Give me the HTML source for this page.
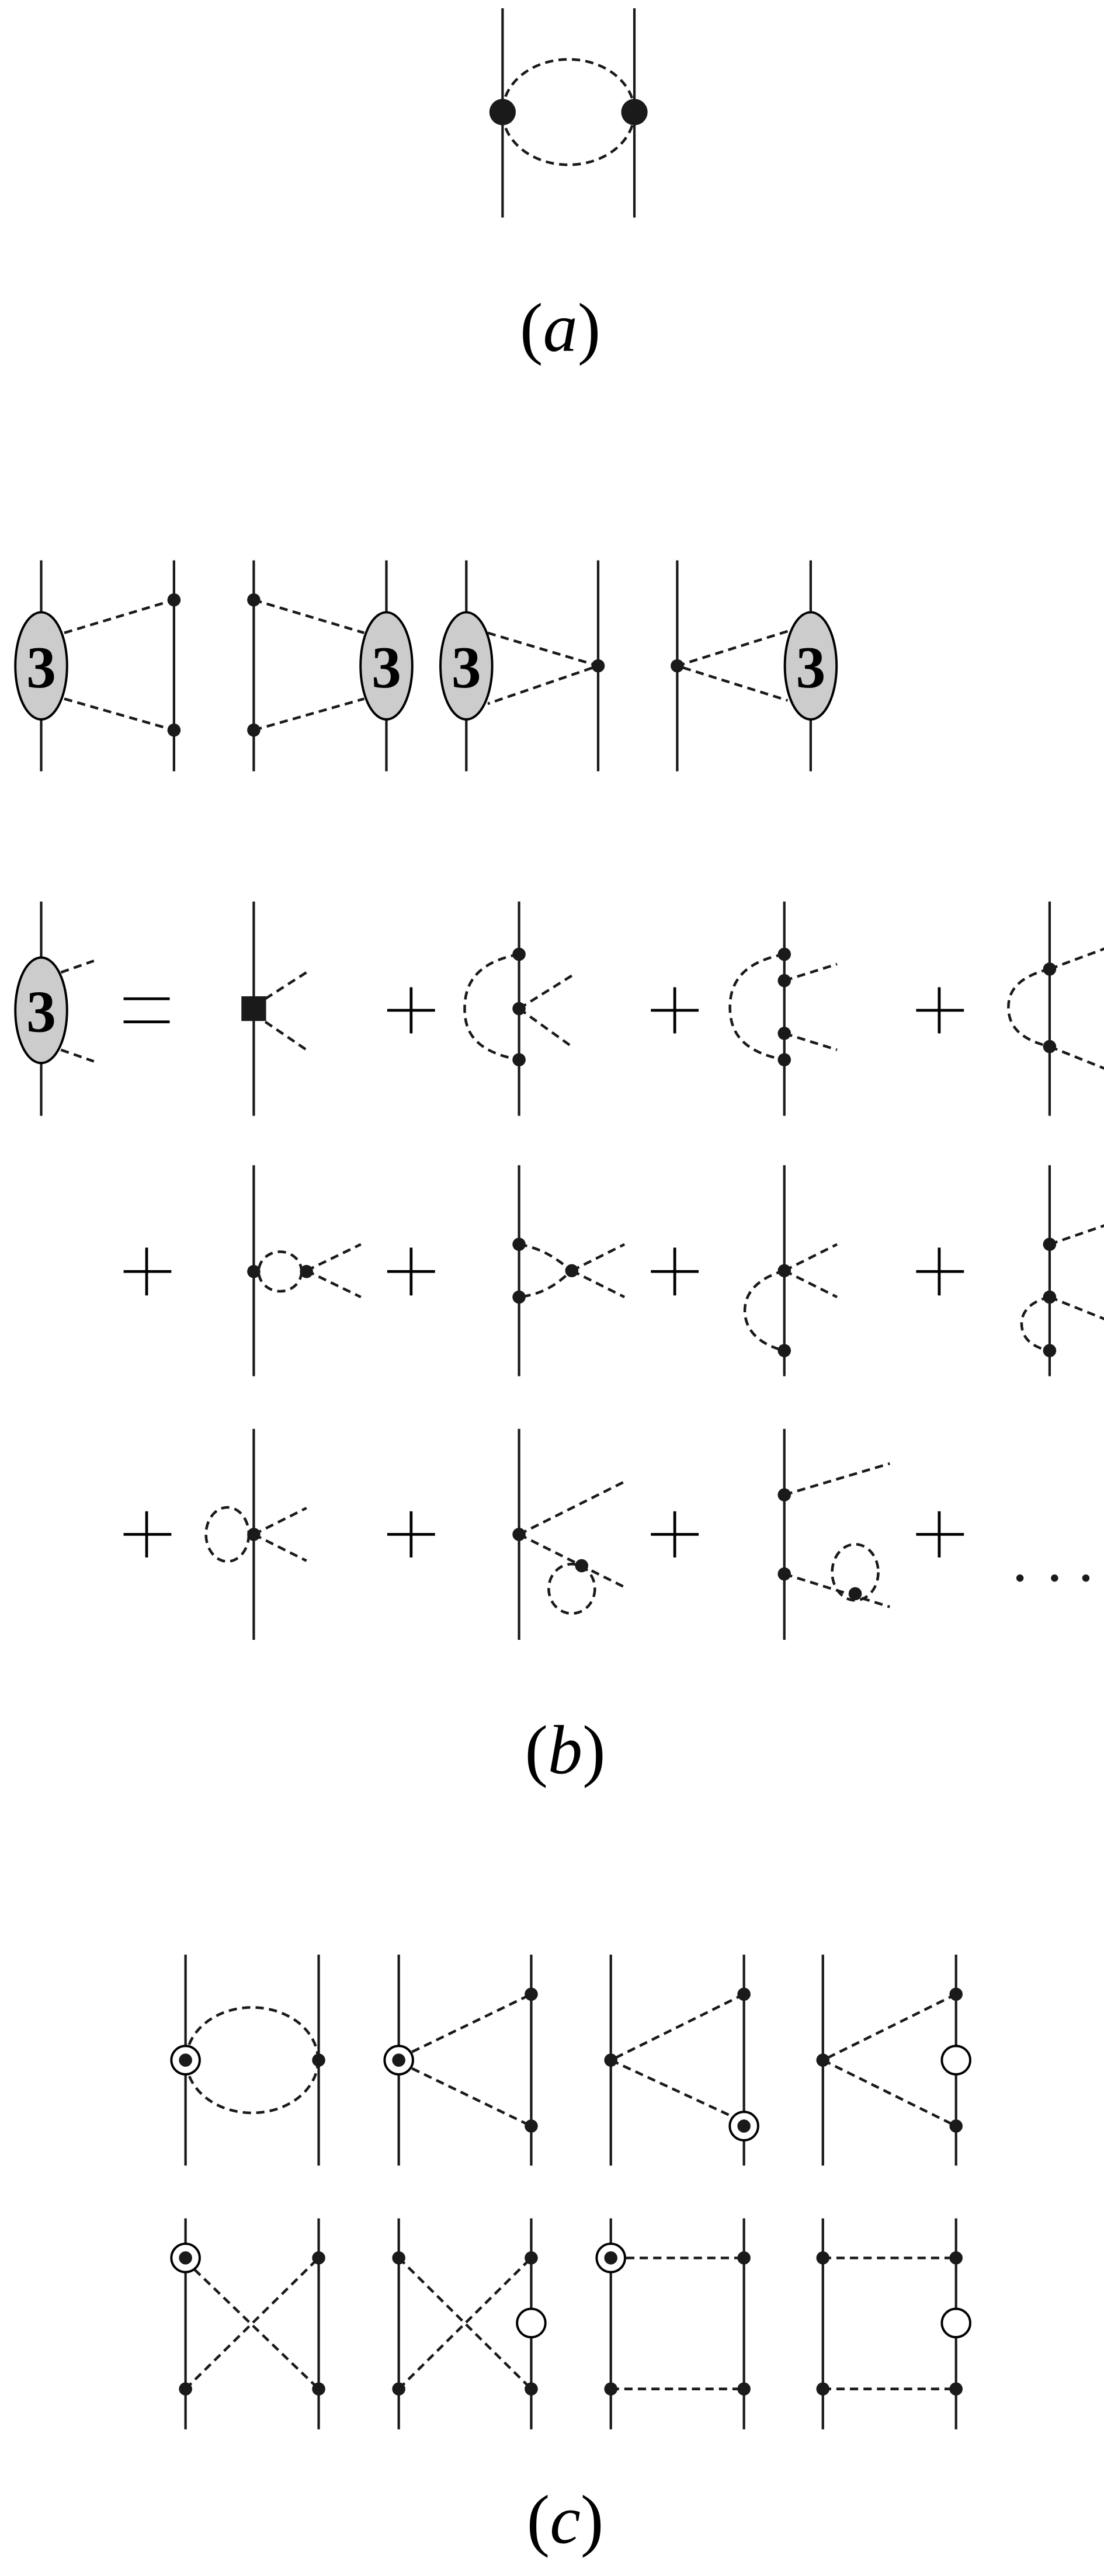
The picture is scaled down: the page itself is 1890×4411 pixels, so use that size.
<!DOCTYPE html>
<html><head><meta charset="utf-8"><style>html,body{margin:0;padding:0;background:#fff}svg{display:block}</style></head>
<body>
<svg width="1890" height="4411" viewBox="0 0 670 1563" preserveAspectRatio="none" xmlns="http://www.w3.org/2000/svg">
<defs>
<style>
.l{stroke:#1a1a1a;stroke-width:1.5;fill:none}
.d{stroke:#1a1a1a;stroke-width:1.6;fill:none;stroke-dasharray:5,3.2}
.dt{fill:#1a1a1a}
.e{fill:#ccc;stroke:#000;stroke-width:1.4}
.t3{font-family:"Liberation Serif",serif;font-weight:bold;font-size:36px;text-anchor:middle}
.lab{font-family:"Liberation Serif",serif;font-size:42px;text-anchor:middle}
.op{stroke:#000;stroke-width:1.7;fill:none}
</style>
</defs>

<!-- (a) -->
<line class="l" x1="305" y1="5" x2="305" y2="132"/>
<line class="l" x1="385" y1="5" x2="385" y2="132"/>
<ellipse class="d" cx="345" cy="68" rx="40" ry="32"/>
<circle class="dt" cx="305" cy="68" r="8"/>
<circle class="dt" cx="385" cy="68" r="8"/>
<text class="lab" x="340" y="213">(<tspan font-style="italic">a</tspan>)</text>

<!-- (b) row 1 -->
<g>
<line class="l" x1="25" y1="340" x2="25" y2="468"/>
<line class="l" x1="105.6" y1="340" x2="105.6" y2="468"/>
<path class="d" d="M39,384 L105.6,364 M39,424 L105.6,443"/>
<ellipse class="e" cx="25" cy="404" rx="15.7" ry="32.5"/>
<text class="t3" x="25" y="417">3</text>
<circle class="dt" cx="105.6" cy="364" r="4"/><circle class="dt" cx="105.6" cy="443" r="4"/>

<line class="l" x1="154" y1="340" x2="154" y2="468"/>
<line class="l" x1="234.5" y1="340" x2="234.5" y2="468"/>
<path class="d" d="M154,364 L221,384 M154,443 L221,424"/>
<ellipse class="e" cx="234.5" cy="404" rx="15.7" ry="32.5"/>
<text class="t3" x="234.5" y="417">3</text>
<circle class="dt" cx="154" cy="364" r="4"/><circle class="dt" cx="154" cy="443" r="4"/>

<line class="l" x1="283" y1="340" x2="283" y2="468"/>
<line class="l" x1="363" y1="340" x2="363" y2="468"/>
<path class="d" d="M296,384 L363,404 L296,427"/>
<ellipse class="e" cx="283" cy="404" rx="15.7" ry="32.5"/>
<text class="t3" x="283" y="417">3</text>
<circle class="dt" cx="363" cy="404" r="4"/>

<line class="l" x1="411" y1="340" x2="411" y2="468"/>
<line class="l" x1="492" y1="340" x2="492" y2="468"/>
<path class="d" d="M478,383 L411,404 L478,425"/>
<ellipse class="e" cx="492" cy="404" rx="15.7" ry="32.5"/>
<text class="t3" x="492" y="417">3</text>
<circle class="dt" cx="411" cy="404" r="4"/>
</g>

<!-- (b) row 2 -->
<g>
<line class="l" x1="25" y1="547" x2="25" y2="677"/>
<path class="d" d="M37,590 L57,583 M37,637 L57,644"/>
<ellipse class="e" cx="25" cy="613" rx="15.7" ry="32"/>
<text class="t3" x="25" y="626">3</text>
<path class="op" d="M75,606 H103 M75,620 H103"/>

<line class="l" x1="154" y1="547" x2="154" y2="677"/>
<rect x="146.5" y="604.5" width="15" height="15" fill="#1a1a1a"/>
<path class="d" d="M161,606 L186,590 M161,620 L186,637"/>

<path class="op" d="M235,613 H264 M249.5,599 V627"/>
<line class="l" x1="315" y1="547" x2="315" y2="677"/>
<path class="d" d="M315,579 C288,584 282,598 282,612 C282,626 288,638 315,643"/>
<path class="d" d="M315,612 L347,592 M315,612 L347,635"/>
<circle class="dt" cx="315" cy="579" r="4"/><circle class="dt" cx="315" cy="612" r="4"/><circle class="dt" cx="315" cy="643" r="4"/>

<path class="op" d="M395,613 H424 M409.5,599 V627"/>
<line class="l" x1="476" y1="547" x2="476" y2="677"/>
<path class="d" d="M476,579 C449,584 443,598 443,611 C443,625 449,638 476,643"/>
<path class="d" d="M476,595 L508,585 M476,627 L508,637"/>
<circle class="dt" cx="476" cy="579" r="4"/><circle class="dt" cx="476" cy="595" r="4"/><circle class="dt" cx="476" cy="627" r="4"/><circle class="dt" cx="476" cy="643" r="4"/>

<path class="op" d="M556,613 H585 M570,599 V627"/>
<line class="l" x1="637" y1="547" x2="637" y2="677"/>
<path class="d" d="M637,588 C616,593 612,603 612,611 C612,620 616,630 637,635"/>
<path class="d" d="M637,588 L672,575 M637,635 L672,649"/>
<circle class="dt" cx="637" cy="588" r="4"/><circle class="dt" cx="637" cy="635" r="4"/>
</g>

<!-- (b) row 3 -->
<g>
<path class="op" d="M75,771.5 H104 M89,757 V786"/>
<line class="l" x1="154" y1="707" x2="154" y2="835"/>
<ellipse class="d" cx="170" cy="771.5" rx="13" ry="12" stroke-dasharray="3.5,2.5"/>
<path class="d" d="M186,771 L219,755 M186,771 L219,787"/>
<circle class="dt" cx="154" cy="771.5" r="4"/><circle class="dt" cx="186" cy="771.5" r="4"/>

<path class="op" d="M235,771.5 H264 M249.5,757 V786"/>
<line class="l" x1="315" y1="707" x2="315" y2="835"/>
<path class="d" d="M315,755 C332,758 340,766 347,771 C340,777 332,785 315,787"/>
<path class="d" d="M347,771 L379,755 M347,771 L379,787"/>
<circle class="dt" cx="315" cy="755" r="4"/><circle class="dt" cx="315" cy="787" r="4"/><circle class="dt" cx="347" cy="771" r="4"/>

<path class="op" d="M395,771.5 H424 M409.5,757 V786"/>
<line class="l" x1="476" y1="707" x2="476" y2="835"/>
<path class="d" d="M476,771 C458,776 452,786 452,795 C452,805 458,815 476,819.5"/>
<path class="d" d="M476,771 L508,755 M476,771 L508,787"/>
<circle class="dt" cx="476" cy="771" r="4"/><circle class="dt" cx="476" cy="819.5" r="4"/>

<path class="op" d="M556,771.5 H585 M570,757 V786"/>
<line class="l" x1="637" y1="707" x2="637" y2="835"/>
<path class="d" d="M637,787 C624,790 620,797 620,803 C620,810 624,817 637,819.5"/>
<path class="d" d="M637,755 L672,743 M637,787 L672,801"/>
<circle class="dt" cx="637" cy="755" r="4"/><circle class="dt" cx="637" cy="787" r="4"/><circle class="dt" cx="637" cy="819.5" r="4"/>
</g>

<!-- (b) row 4 -->
<g>
<path class="op" d="M75,931 H104 M89,917 V945"/>
<line class="l" x1="154" y1="867" x2="154" y2="995"/>
<ellipse class="d" cx="138" cy="931" rx="13" ry="16.4"/>
<path class="d" d="M154,931 L186,915 M154,931 L186,947"/>
<circle class="dt" cx="154" cy="931" r="4"/>

<path class="op" d="M235,931 H264 M249.5,917 V945"/>
<line class="l" x1="315" y1="867" x2="315" y2="995"/>
<path class="d" d="M315,931 L379,899 M315,931 L379,963"/>
<ellipse class="d" cx="347" cy="964" rx="14" ry="15"/>
<circle class="dt" cx="315" cy="931" r="4"/><circle class="dt" cx="353" cy="950" r="4"/>

<path class="op" d="M395,931 H424 M409.5,917 V945"/>
<line class="l" x1="476" y1="867" x2="476" y2="995"/>
<path class="d" d="M476,907 L540,888 M476,955 L540,975"/>
<ellipse class="d" cx="519" cy="954" rx="14" ry="17"/>
<circle class="dt" cx="476" cy="907" r="4"/><circle class="dt" cx="476" cy="955" r="4"/><circle class="dt" cx="519" cy="967" r="4"/>

<path class="op" d="M556,931 H585 M570,917 V945"/>
<circle class="dt" cx="619" cy="957.5" r="2.2"/><circle class="dt" cx="640" cy="957.5" r="2.2"/><circle class="dt" cx="659" cy="957.5" r="2.2"/>
</g>
<text class="lab" x="343" y="1076">(<tspan font-style="italic">b</tspan>)</text>

<!-- (c) row 1 -->
<g>
<line class="l" x1="112.6" y1="1186" x2="112.6" y2="1314"/>
<line class="l" x1="193.4" y1="1186" x2="193.4" y2="1314"/>
<ellipse class="d" cx="153" cy="1250" rx="40" ry="32"/>
<circle cx="112.6" cy="1250" r="8.6" fill="#fff" stroke="#000" stroke-width="1.4"/><circle class="dt" cx="112.6" cy="1250" r="4"/>
<circle class="dt" cx="193.4" cy="1250" r="4"/>

<line class="l" x1="242" y1="1186" x2="242" y2="1314"/>
<line class="l" x1="322.4" y1="1186" x2="322.4" y2="1314"/>
<path class="d" d="M250,1245 L322.4,1210 M250,1255 L322.4,1290"/>
<circle cx="242" cy="1250" r="8.6" fill="#fff" stroke="#000" stroke-width="1.4"/><circle class="dt" cx="242" cy="1250" r="4"/>
<circle class="dt" cx="322.4" cy="1210" r="4"/><circle class="dt" cx="322.4" cy="1290" r="4"/>

<line class="l" x1="370.7" y1="1186" x2="370.7" y2="1314"/>
<line class="l" x1="451.5" y1="1186" x2="451.5" y2="1314"/>
<path class="d" d="M451.5,1210 L370.7,1250 L444,1284"/>
<circle class="dt" cx="370.7" cy="1250" r="4"/><circle class="dt" cx="451.5" cy="1210" r="4"/>
<circle cx="451.5" cy="1290" r="8.6" fill="#fff" stroke="#000" stroke-width="1.4"/><circle class="dt" cx="451.5" cy="1290" r="4"/>

<line class="l" x1="499.4" y1="1186" x2="499.4" y2="1314"/>
<line class="l" x1="580.2" y1="1186" x2="580.2" y2="1314"/>
<path class="d" d="M580.2,1210 L499.4,1250 L580.2,1290"/>
<circle class="dt" cx="499.4" cy="1250" r="4"/><circle class="dt" cx="580.2" cy="1210" r="4"/><circle class="dt" cx="580.2" cy="1290" r="4"/>
<circle cx="580.2" cy="1250" r="8.6" fill="#fff" stroke="#000" stroke-width="1.4"/>
</g>

<!-- (c) row 2 -->
<g>
<line class="l" x1="112.6" y1="1346" x2="112.6" y2="1474"/>
<line class="l" x1="193.4" y1="1346" x2="193.4" y2="1474"/>
<path class="d" d="M118,1377 L193.4,1449.5 M112.6,1449.5 L193.4,1370"/>
<circle cx="112.6" cy="1370" r="8.6" fill="#fff" stroke="#000" stroke-width="1.4"/><circle class="dt" cx="112.6" cy="1370" r="4"/>
<circle class="dt" cx="193.4" cy="1370" r="4"/><circle class="dt" cx="112.6" cy="1449.5" r="4"/><circle class="dt" cx="193.4" cy="1449.5" r="4"/>

<line class="l" x1="242" y1="1346" x2="242" y2="1474"/>
<line class="l" x1="322.4" y1="1346" x2="322.4" y2="1474"/>
<path class="d" d="M242,1370 L322.4,1449.5 M242,1449.5 L322.4,1370"/>
<circle class="dt" cx="242" cy="1370" r="4"/><circle class="dt" cx="322.4" cy="1370" r="4"/><circle class="dt" cx="242" cy="1449.5" r="4"/><circle class="dt" cx="322.4" cy="1449.5" r="4"/>
<circle cx="322.4" cy="1409.5" r="8.6" fill="#fff" stroke="#000" stroke-width="1.4"/>

<line class="l" x1="370.7" y1="1346" x2="370.7" y2="1474"/>
<line class="l" x1="451.5" y1="1346" x2="451.5" y2="1474"/>
<path class="d" d="M380,1370 L451.5,1370 M370.7,1449.5 L451.5,1449.5"/>
<circle cx="370.7" cy="1370" r="8.6" fill="#fff" stroke="#000" stroke-width="1.4"/><circle class="dt" cx="370.7" cy="1370" r="4"/>
<circle class="dt" cx="451.5" cy="1370" r="4"/><circle class="dt" cx="370.7" cy="1449.5" r="4"/><circle class="dt" cx="451.5" cy="1449.5" r="4"/>

<line class="l" x1="499.4" y1="1346" x2="499.4" y2="1474"/>
<line class="l" x1="580.2" y1="1346" x2="580.2" y2="1474"/>
<path class="d" d="M499.4,1370 L580.2,1370 M499.4,1449.5 L580.2,1449.5"/>
<circle class="dt" cx="499.4" cy="1370" r="4"/><circle class="dt" cx="580.2" cy="1370" r="4"/><circle class="dt" cx="499.4" cy="1449.5" r="4"/><circle class="dt" cx="580.2" cy="1449.5" r="4"/>
<circle cx="580.2" cy="1409.5" r="8.6" fill="#fff" stroke="#000" stroke-width="1.4"/>
</g>
<text class="lab" x="343" y="1543">(<tspan font-style="italic">c</tspan>)</text>
</svg>
</body></html>
